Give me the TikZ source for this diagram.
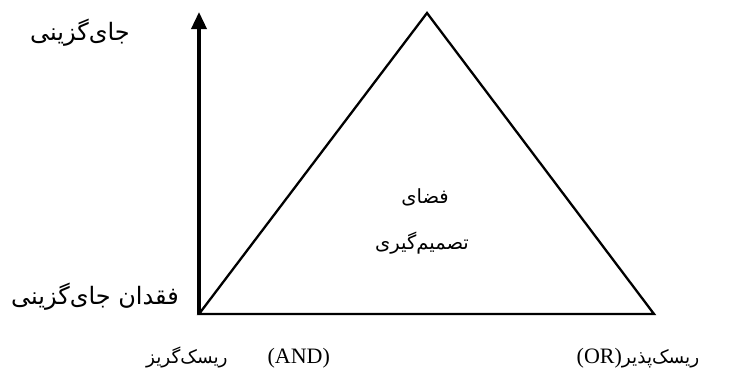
\documentclass[tikz,border=0pt]{standalone}
\usepackage{fontspec}
\setmainfont{Liberation Serif}
\newfontfamily\fafont[Script=Arabic]{DejaVu Sans}
\TeXXeTstate=1
\usetikzlibrary{arrows.meta,positioning}
\newcommand{\fatext}[1]{{\fafont\beginR #1\endR}}
\newcommand{\fasmall}{\fontsize{18.5}{22}\selectfont}
\tikzset{axislabel/.style={font=\fontsize{24}{28}\selectfont, inner sep=0pt},
  spacelabel/.style={font=\fontsize{19.5}{23}\selectfont, inner sep=0pt},
  riskslabel/.style={font=\fontsize{22}{26}\selectfont, inner sep=0pt},
  axisarrow/.style={-{Triangle[length=17pt,width=15pt]}, line width=3.5pt},
  spaceline/.style={line width=2.3pt, line join=miter}}

\begin{document}
\begin{tikzpicture}[x=1pt,y=-1pt]
    \useasboundingbox (0,0) rectangle (752,378);
    \coordinate (left) at (199,314);
    \coordinate (apex) at (427,13);
    \coordinate (right) at (654,314);
    \coordinate (top) at (199,12);
    \draw[spaceline] (left) -- (apex) -- (right) -- cycle;
    \draw[axisarrow] (left) -- (top);
    \node[axislabel] (alt) at (80,33) {\fatext{جای^^^^200cگزینی}};
    \node[axislabel] (noalt) at (95,297) {\fatext{فقدان جای^^^^200cگزینی}};
    \node[spacelabel] (space) at (425,197) {\fatext{فضای}};
    \node[spacelabel] (decision) at (422,243) {\fatext{تصمیم^^^^200cگیری}};
    \node[riskslabel] (averse) at (238,358) {{\fasmall\fatext{ریسک^^^^200cگریز}}\hspace{40pt}(AND)};
    \node[riskslabel] (seeking) at (638,358) {(OR){\fasmall\fatext{ریسک^^^^200cپذیر}}};
  \end{tikzpicture}
\end{document}
